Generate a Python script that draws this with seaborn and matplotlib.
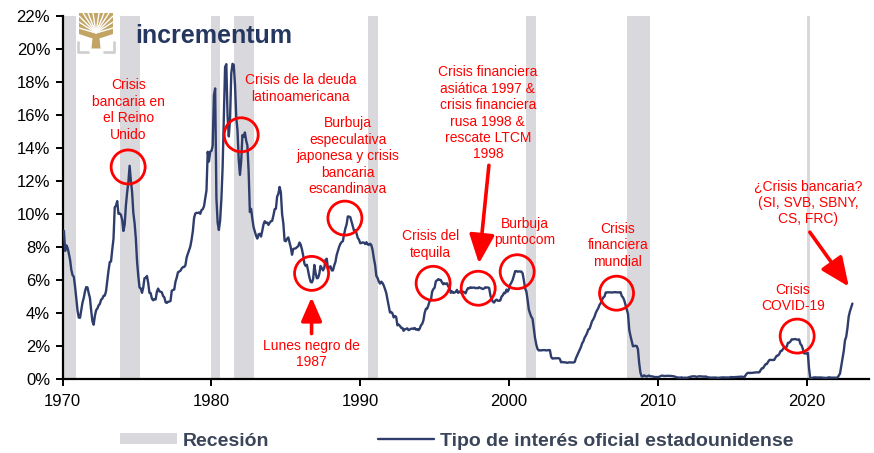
import numpy as np
import pandas as pd
import matplotlib
matplotlib.use("Agg")
import matplotlib.pyplot as plt
import seaborn as sns
from matplotlib.patches import Ellipse, Patch, Polygon
from matplotlib.lines import Line2D

# ---------------- data ----------------
start_year = 1970
# monthly US policy (effective fed funds) rate, %, Jan 1970 .. Feb 2023
fed_funds = [
    8.98, 8.98, 7.76, 8.10, 7.94, 7.60, 7.21, 6.61, 6.29, 6.20, 5.60, 4.90,   # 1970
    4.14, 3.72, 3.71, 4.16, 4.63, 4.91, 5.31, 5.57, 5.55, 5.20, 4.91, 4.14,   # 1971
    3.50, 3.29, 3.83, 4.17, 4.27, 4.46, 4.55, 4.80, 4.87, 5.04, 5.06, 5.33,   # 1972
    5.94, 6.58, 7.09, 7.12, 7.84, 8.49, 10.40, 10.50, 10.78, 10.01, 10.03, 9.95,  # 1973
    9.65, 8.97, 9.35, 10.51, 11.31, 11.93, 12.92, 12.01, 11.34, 10.06, 9.45, 8.53,  # 1974
    7.13, 6.24, 5.54, 5.49, 5.22, 5.55, 6.10, 6.14, 6.24, 5.82, 5.22, 5.20,   # 1975
    4.87, 4.77, 4.84, 4.82, 5.29, 5.48, 5.31, 5.29, 5.25, 5.03, 4.95, 4.65,   # 1976
    4.61, 4.68, 4.69, 4.73, 5.35, 5.39, 5.42, 5.90, 6.14, 6.47, 6.51, 6.56,   # 1977
    6.70, 6.78, 6.79, 6.89, 7.36, 7.60, 7.81, 8.04, 8.45, 8.96, 9.76, 10.03,  # 1978
    10.07, 10.06, 10.09, 10.01, 10.24, 10.29, 10.47, 10.94, 11.43, 13.77, 13.18, 13.78,  # 1979
    13.82, 14.13, 17.19, 17.61, 10.98, 9.47, 9.03, 9.61, 10.87, 12.81, 15.85, 18.90,  # 1980
    19.08, 15.93, 14.70, 15.72, 18.52, 19.10, 19.04, 17.82, 15.87, 15.08, 13.31, 12.37,  # 1981
    13.22, 14.78, 14.68, 14.94, 14.45, 14.15, 12.59, 10.12, 10.31, 9.71, 9.20, 8.95,  # 1982
    8.68, 8.51, 8.77, 8.80, 8.63, 8.98, 9.37, 9.56, 9.45, 9.48, 9.34, 9.47,   # 1983
    9.56, 9.59, 9.91, 10.29, 10.32, 11.06, 11.23, 11.64, 11.30, 9.99, 9.43, 8.38,  # 1984
    8.35, 8.50, 8.58, 8.27, 7.97, 7.53, 7.88, 7.90, 7.92, 7.99, 8.05, 8.27,   # 1985
    8.14, 7.86, 7.48, 6.99, 6.85, 6.92, 6.56, 6.17, 5.89, 5.85, 6.04, 6.91,   # 1986
    6.43, 6.10, 6.13, 6.37, 6.85, 6.73, 6.58, 6.73, 7.22, 7.29, 6.69, 6.77,   # 1987
    6.83, 6.58, 6.58, 6.87, 7.09, 7.51, 7.75, 8.01, 8.19, 8.30, 8.35, 8.76,   # 1988
    9.12, 9.36, 9.85, 9.84, 9.81, 9.53, 9.24, 8.99, 9.02, 8.84, 8.55, 8.45,   # 1989
    8.23, 8.24, 8.28, 8.26, 8.18, 8.29, 8.15, 8.13, 8.20, 8.11, 7.81, 7.31,   # 1990
    6.91, 6.25, 6.12, 5.91, 5.78, 5.90, 5.82, 5.66, 5.45, 5.21, 4.81, 4.43,   # 1991
    4.03, 4.06, 3.98, 3.73, 3.82, 3.76, 3.25, 3.30, 3.22, 3.10, 3.09, 2.92,   # 1992
    3.02, 3.03, 3.07, 2.96, 3.00, 3.04, 3.06, 3.03, 3.09, 2.99, 3.02, 2.96,   # 1993
    3.05, 3.25, 3.34, 3.56, 4.01, 4.25, 4.26, 4.47, 4.73, 4.76, 5.29, 5.45,   # 1994
    5.53, 5.92, 5.98, 6.05, 6.01, 6.00, 5.85, 5.74, 5.80, 5.76, 5.80, 5.60,   # 1995
    5.56, 5.22, 5.31, 5.22, 5.24, 5.27, 5.40, 5.22, 5.30, 5.24, 5.31, 5.29,   # 1996
    5.25, 5.19, 5.39, 5.51, 5.50, 5.56, 5.52, 5.54, 5.54, 5.50, 5.52, 5.50,   # 1997
    5.56, 5.51, 5.49, 5.45, 5.49, 5.56, 5.54, 5.55, 5.51, 5.07, 4.83, 4.68,   # 1998
    4.63, 4.76, 4.81, 4.74, 4.74, 4.76, 4.99, 5.07, 5.22, 5.20, 5.42, 5.30,   # 1999
    5.45, 5.73, 5.85, 6.02, 6.27, 6.53, 6.54, 6.50, 6.52, 6.51, 6.51, 6.40,   # 2000
    5.98, 5.49, 5.31, 4.80, 4.21, 3.97, 3.77, 3.65, 3.07, 2.49, 2.09, 1.82,   # 2001
    1.73, 1.74, 1.73, 1.75, 1.75, 1.75, 1.73, 1.74, 1.75, 1.75, 1.34, 1.24,   # 2002
    1.24, 1.26, 1.25, 1.26, 1.26, 1.22, 1.01, 1.03, 1.01, 1.01, 1.00, 0.98,   # 2003
    1.00, 1.01, 1.00, 1.00, 1.00, 1.03, 1.26, 1.43, 1.61, 1.76, 1.93, 2.16,   # 2004
    2.28, 2.50, 2.63, 2.79, 3.00, 3.04, 3.26, 3.50, 3.62, 3.78, 4.00, 4.16,   # 2005
    4.29, 4.49, 4.59, 4.79, 4.94, 4.99, 5.24, 5.25, 5.25, 5.25, 5.25, 5.24,   # 2006
    5.25, 5.26, 5.26, 5.25, 5.25, 5.25, 5.26, 5.02, 4.94, 4.76, 4.49, 4.24,   # 2007
    3.94, 2.98, 2.61, 2.28, 1.98, 2.00, 2.01, 2.00, 1.81, 0.97, 0.39, 0.16,   # 2008
    0.15, 0.22, 0.18, 0.15, 0.18, 0.21, 0.16, 0.16, 0.15, 0.12, 0.12, 0.12,   # 2009
    0.11, 0.13, 0.16, 0.20, 0.20, 0.18, 0.18, 0.19, 0.19, 0.19, 0.19, 0.18,   # 2010
    0.17, 0.16, 0.14, 0.10, 0.09, 0.09, 0.07, 0.10, 0.08, 0.07, 0.08, 0.07,   # 2011
    0.08, 0.10, 0.13, 0.14, 0.16, 0.16, 0.16, 0.13, 0.14, 0.16, 0.16, 0.16,   # 2012
    0.14, 0.15, 0.14, 0.15, 0.11, 0.09, 0.09, 0.08, 0.08, 0.09, 0.08, 0.09,   # 2013
    0.07, 0.07, 0.08, 0.09, 0.09, 0.10, 0.09, 0.09, 0.09, 0.09, 0.09, 0.12,   # 2014
    0.11, 0.11, 0.11, 0.12, 0.12, 0.13, 0.13, 0.14, 0.14, 0.12, 0.12, 0.24,   # 2015
    0.34, 0.38, 0.36, 0.37, 0.37, 0.38, 0.39, 0.40, 0.40, 0.40, 0.41, 0.54,   # 2016
    0.65, 0.66, 0.79, 0.90, 0.91, 1.04, 1.15, 1.16, 1.15, 1.15, 1.16, 1.30,   # 2017
    1.41, 1.42, 1.51, 1.69, 1.70, 1.82, 1.91, 1.91, 1.95, 2.19, 2.20, 2.27,   # 2018
    2.40, 2.40, 2.41, 2.42, 2.39, 2.38, 2.40, 2.13, 2.04, 1.83, 1.55, 1.55,   # 2019
    1.55, 1.58, 0.65, 0.05, 0.05, 0.08, 0.09, 0.10, 0.09, 0.09, 0.09, 0.09,   # 2020
    0.09, 0.08, 0.07, 0.07, 0.06, 0.08, 0.10, 0.09, 0.08, 0.08, 0.08, 0.08,   # 2021
    0.08, 0.08, 0.20, 0.33, 0.77, 1.21, 1.68, 2.33, 2.56, 3.08, 3.78, 4.10,   # 2022
    4.33, 4.57,                                                               # 2023
]

# NBER recession periods (decimal years)
rec_start = [1969.95, 1973.87, 1980.00, 1981.50, 1990.50, 2001.17, 2007.92, 2020.00]
rec_end   = [1970.87, 1975.20, 1980.55, 1982.87, 1991.17, 2001.83, 2009.45, 2020.20]

year_ticks = [1970, 1980, 1990, 2000, 2010, 2020]
pct_ticks = list(range(0, 23, 2))

# annotations: text, text position (year, %)
ann_texts = [
    "Crisis\nbancaria en\nel Reino\nUnido",
    "Crisis de la deuda\nlatinoamericana",
    "Burbuja\nespeculativa\njaponesa y crisis\nbancaria\nescandinava",
    "Crisis financiera\nasiática 1997 &\ncrisis financiera\nrusa 1998 &\nrescate LTCM\n1998",
    "Crisis del\ntequila",
    "Burbuja\npuntocom",
    "Lunes negro de\n1987",
    "Crisis\nfinanciera\nmundial",
    "Crisis\nCOVID-19",
    "¿Crisis bancaria?\n(SI, SVB, SBNY,\nCS, FRC)",
]
ann_x = [1974.4, 1986.0, 1989.17, 1998.58, 1994.73, 2001.07, 1986.69, 2007.32, 2019.08, 2020.09]
ann_y = [16.3, 17.6, 13.5, 16.1, 8.15, 8.9, 1.5, 8.1, 4.9, 10.67]

# highlighted episodes (circle centres)
circ_x = [1974.4, 1982.0, 1986.73, 1988.97, 1994.9, 1997.93, 2000.55, 2007.23, 2019.37]
circ_y = [12.85, 14.8, 6.4, 9.75, 5.8, 5.5, 6.5, 5.2, 2.6]

# arrows: tail -> head (year, %)
arr_tail = [(1998.65, 12.95), (1986.73, 2.75), (2020.22, 8.9)]
arr_head = [(1997.98, 7.0), (1986.73, 4.95), (2022.84, 5.6)]

# ---------------- style ----------------
sns.set_style("ticks")
plt.rcParams["font.family"] = ["Liberation Sans", "DejaVu Sans"]

LINE_C = "#2E3D6B"
REC_C = "#D9D8DC"
RED = "#FF0000"
LEG_TXT = "#3B4559"

fig = plt.figure(figsize=(8.74, 4.53), dpi=100)
ax = fig.add_axes([0.0717, 0.1634, 0.9943 - 0.0717, 0.9647 - 0.1634])

for s, e in zip(rec_start, rec_end):
    ax.axvspan(s, e, color=REC_C, lw=0, zorder=0)

df = pd.DataFrame({
    "year": start_year + np.arange(len(fed_funds)) / 12.0,
    "rate": fed_funds,
})
sns.lineplot(data=df, x="year", y="rate", ax=ax, color=LINE_C, lw=1.7, zorder=3)

ax.set_xlim(1970, 2024.2)
ax.set_ylim(0, 22)
ax.set_xticks(year_ticks)
ax.set_xticklabels([str(y) for y in year_ticks])
ax.set_yticks(pct_ticks)
ax.set_yticklabels([f"{p}%" for p in pct_ticks])
ax.set_xlabel("")
ax.set_ylabel("")
for sp in ["top", "right"]:
    ax.spines[sp].set_visible(False)
for sp in ["left", "bottom"]:
    ax.spines[sp].set_linewidth(1.6)
    ax.spines[sp].set_color("black")
ax.tick_params(axis="both", direction="out", length=5, width=1.4, labelsize=12,
               colors="black", pad=4)
ax.tick_params(axis="x", pad=6)

# circles
cw = 34 / 14.88
ch = 34 / 16.5
for cx, cy in zip(circ_x, circ_y):
    ax.add_patch(Ellipse((cx, cy), cw, ch, fill=False, ec=RED, lw=2, zorder=5))

# texts
for t, tx, ty in zip(ann_texts, ann_x, ann_y):
    ax.text(tx, ty, t, color=RED, fontsize=10, ha="center", va="center",
            linespacing=1.22, zorder=6)

# arrows
arrow_sizes = [22, 18, 22]
for (tx, ty), (hx, hy), ms in zip(arr_tail, arr_head, arrow_sizes):
    ax.annotate("", xy=(hx, hy), xytext=(tx, ty),
                arrowprops=dict(arrowstyle="-|>,head_length=0.8,head_width=0.35",
                                color=RED, lw=2.6, mutation_scale=ms,
                                shrinkA=0, shrinkB=0), zorder=6)

# logo
fig.text(135 / 874, 1 - 43 / 453, "incrementum", fontsize=18, fontweight="bold",
         color="#26375F", ha="left", va="baseline")
# logo area in pixel units: x 76..116, y 12..54 (top-down)
lax = fig.add_axes([76 / 874, 1 - 54 / 453, 40 / 874, 42 / 453])
lax.set_xlim(0, 40)
lax.set_ylim(42, 0)
lax.axis("off")
GOLD = "#C2A464"
lax.add_patch(Polygon([[3, 1], [37, 1], [37, 22], [25, 26], [15, 26], [3, 22]],
                      closed=True, color=GOLD, lw=0))
lax.add_patch(Polygon([[15.5, 36.5], [24.5, 36.5], [23, 20], [17, 20]],
                      closed=True, color=GOLD, lw=0))
for ex, ey in [(3, 4), (3, 10), (3, 16), (7, 1), (12, 1), (17, 1), (23, 1),
               (28, 1), (33, 1), (37, 4), (37, 10), (37, 16)]:
    lax.plot([20, ex], [21, ey], color="white", lw=1.0, solid_capstyle="butt")
lax.plot([1.5, 1.5, 12], [30, 40, 40], color="#D0D0D0", lw=2)
lax.plot([38.5, 38.5, 28], [30, 40, 40], color="#D0D0D0", lw=2)

# legend
handles = [Patch(facecolor=REC_C, edgecolor="none"),
           Line2D([0], [0], color=LINE_C, lw=1.7)]
leg = fig.legend(handles, ["Recesión", "Tipo de interés oficial estadounidense"],
                 loc="center", bbox_to_anchor=(457 / 874, 1 - 441 / 453), ncol=2,
                 frameon=False, fontsize=14, handlelength=2.9, handleheight=0.45,
                 handletextpad=0.3, columnspacing=5.6, borderpad=0, borderaxespad=0)
for t in leg.get_texts():
    t.set_color(LEG_TXT)
    t.set_fontweight("bold")

fig.savefig("out.png", dpi=100)
